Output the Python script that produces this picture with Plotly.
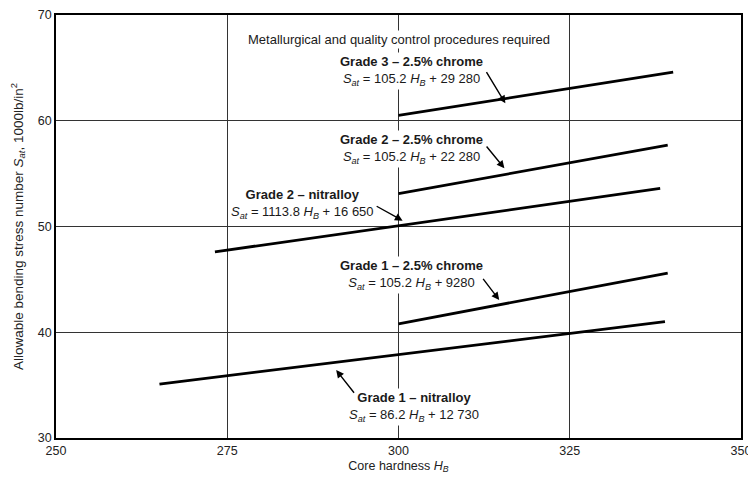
import plotly.graph_objects as go

# ---- data ----
hb_grade3_chrome = [300, 340.1]
sat_grade3_chrome = [60.5, 64.6]

hb_grade2_chrome = [300, 339.3]
sat_grade2_chrome = [53.1, 57.7]

hb_grade2_nitralloy = [273.2, 338.2]
sat_grade2_nitralloy = [47.6, 53.6]

hb_grade1_chrome = [300, 339.3]
sat_grade1_chrome = [40.8, 45.6]

hb_grade1_nitralloy = [265.1, 338.9]
sat_grade1_nitralloy = [35.1, 41.0]

x_ticks = [250, 275, 300, 325, 350]
y_ticks = [30, 40, 50, 60, 70]

series = [
    ("Grade 3 – 2.5% chrome", hb_grade3_chrome, sat_grade3_chrome),
    ("Grade 2 – 2.5% chrome", hb_grade2_chrome, sat_grade2_chrome),
    ("Grade 2 – nitralloy", hb_grade2_nitralloy, sat_grade2_nitralloy),
    ("Grade 1 – 2.5% chrome", hb_grade1_chrome, sat_grade1_chrome),
    ("Grade 1 – nitralloy", hb_grade1_nitralloy, sat_grade1_nitralloy),
]

FONT = "Liberation Sans, Arial, sans-serif"

fig = go.Figure()
for name, xs, ys in series:
    fig.add_trace(go.Scatter(x=xs, y=ys, mode="lines", name=name,
                             line=dict(color="black", width=2.8),
                             showlegend=False, hoverinfo="skip"))

def label(x, y, text):
    fig.add_annotation(x=x, y=y, xref="x", yref="y", text=text, showarrow=False,
                       font=dict(family=FONT, size=13, color="#1a1a1a"),
                       bgcolor="white", borderpad=1, align="center")

def arrow(x, y, tx, ty):
    fig.add_annotation(x=x, y=y, xref="x", yref="y", text="", showarrow=True,
                       font=dict(size=1), borderpad=0,
                       ax=tx, ay=ty, axref="x", ayref="y",
                       arrowhead=2, arrowsize=1.1, arrowwidth=1.4,
                       arrowcolor="black", standoff=0)

def eq(a, b):
    return ("<i>S</i><sub><i>at</i></sub> = " + a + " <i>H</i><sub><i>B</i></sub> + " + b)

label(300.0, 67.64, "Metallurgical and quality control procedures required")
label(301.85, 64.66, "<b>Grade 3 – 2.5% chrome</b><br>" + eq("105.2", "29 280"))
label(301.85, 57.36, "<b>Grade 2 – 2.5% chrome</b><br>" + eq("105.2", "22 280"))
label(286.0, 52.11, "<b>Grade 2 – nitralloy</b><br>" + eq("1113.8", "16 650"))
label(301.85, 45.39, "<b>Grade 1 – 2.5% chrome</b><br>" + eq("105.2", "9280"))
label(302.33, 32.93, "<b>Grade 1 – nitralloy</b><br>" + eq("86.2", "12 730"))

arrow(315.6, 61.65, 312.8, 64.64)
arrow(315.46, 55.5, 312.8, 57.61)
arrow(300.6, 50.55, 296.74, 51.94)
arrow(314.7, 43.05, 312.3, 45.10)
arrow(290.9, 36.43, 293.57, 34.23)

fig.update_xaxes(range=[250, 350], tickvals=x_ticks, ticktext=[str(v) for v in x_ticks],
                 showgrid=True, gridcolor="#333", gridwidth=1,
                 showline=True, linecolor="black", linewidth=1.5, mirror=True,
                 ticks="", zeroline=False, automargin=False,
                 tickfont=dict(family=FONT, size=12.5, color="#222"),
                 title=dict(text="Core hardness <i>H</i><sub><i>B</i></sub>",
                            font=dict(family=FONT, size=12.5, color="#222"), standoff=4))
fig.update_yaxes(range=[30, 70], tickvals=y_ticks, ticktext=[str(v) for v in y_ticks],
                 showgrid=True, gridcolor="#333", gridwidth=1,
                 showline=True, linecolor="black", linewidth=1.5, mirror=True,
                 ticks="", zeroline=False, automargin=False,
                 tickfont=dict(family=FONT, size=12.5, color="#222"),
                 title=dict(text="Allowable bending stress number <i>S</i><sub><i>at</i></sub>, 1000lb/in<sup>2</sup>",
                            font=dict(family=FONT, size=13.5, color="#222"), standoff=12))

# the page body adds an 8 px offset, so the figure is sized to fit the window
fig.update_layout(width=748, height=474, margin=dict(l=48, r=15, t=7, b=44),
                  plot_bgcolor="white", paper_bgcolor="white",
                  font=dict(family=FONT))

fig.write_html("out.html")
